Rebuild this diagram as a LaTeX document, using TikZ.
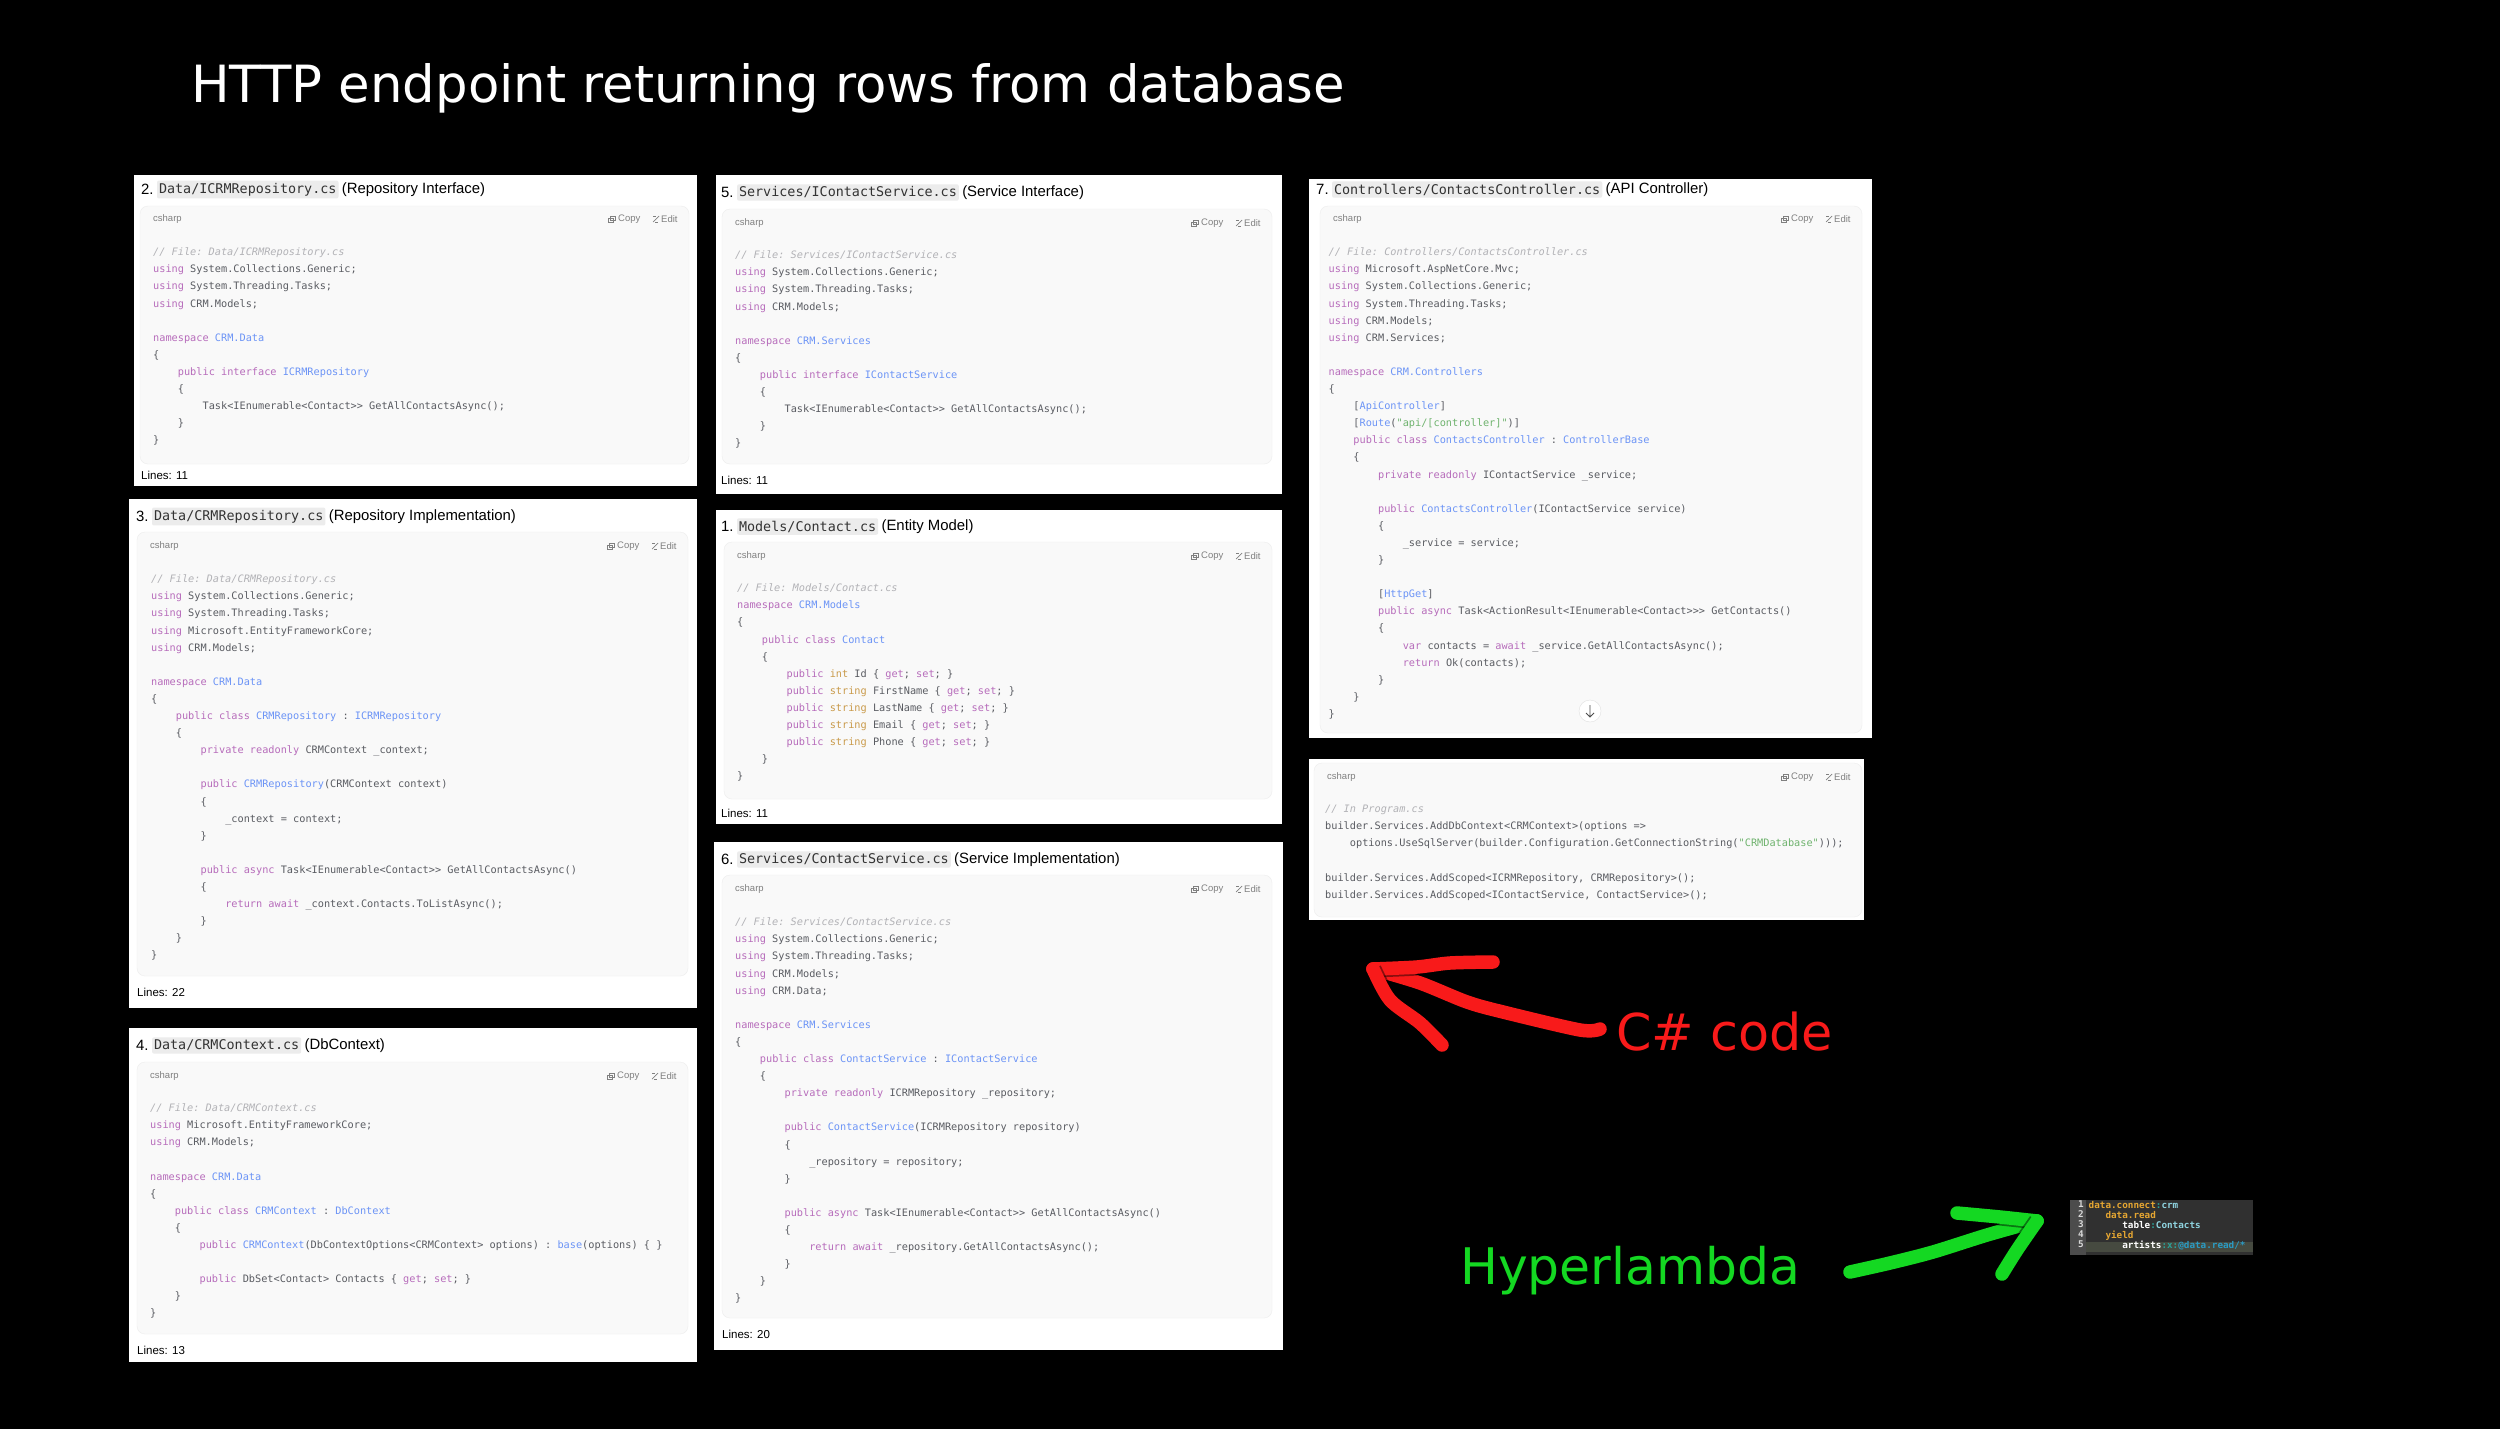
\documentclass[tikz,border=0pt]{standalone}
\usepackage{fontspec}
\setmainfont{Liberation Sans}
\setmonofont{DejaVu Sans Mono}
\newfontfamily\slidefont{DejaVu Sans}
\usetikzlibrary{positioning}
\definecolor{kwcol}{HTML}{B76CBB}
\definecolor{tycol}{HTML}{6C94F6}
\definecolor{stcol}{HTML}{6FB36E}
\definecolor{cmcol}{HTML}{B2B2B6}
\definecolor{ntcol}{HTML}{C99A4A}
\definecolor{plcol}{HTML}{5A5C62}
\definecolor{cardcol}{HTML}{F9F9F9}
\definecolor{pillcol}{HTML}{ECECEC}
\definecolor{redcol}{HTML}{F81A1A}
\definecolor{greencol}{HTML}{14D822}
\definecolor{hlor}{HTML}{E5A632}
\definecolor{hlte}{HTML}{2AA198}
\definecolor{hlbl}{HTML}{8FD4E0}
\definecolor{hlat}{HTML}{2A9BC4}
\definecolor{hlline}{HTML}{464A40}
\newcommand{\kw}[1]{\textcolor{kwcol}{#1}}
\newcommand{\ty}[1]{\textcolor{tycol}{#1}}
\newcommand{\st}[1]{\textcolor{stcol}{#1}}
\newcommand{\nt}[1]{\textcolor{ntcol}{#1}}
\newcommand{\cm}[1]{\textcolor{cmcol}{\itshape #1}}
\newcommand{\iA}{\hspace*{24.7pt}}
\newcommand{\iB}{\hspace*{49.4pt}}
\newcommand{\iC}{\hspace*{74.1pt}}
\newcommand{\paneltitle}[6]{
	\node[titletext, anchor=west] (#1num) at (#2,#3) {#4};
	\node[pill, right=3pt of #1num] (#1file) {#5};
	\node[titletext, right=3pt of #1file] (#1desc) {#6};
}
\tikzset{
	titletext/.style={inner sep=0pt, font=\fontsize{14.9}{17}\selectfont, text=black},
	pill/.style={fill=pillcol, rounded corners=2pt, inner xsep=2pt, inner ysep=2.5pt, text=black!80, font=\ttfamily\fontsize{13.4}{16}\selectfont},
	codetext/.style={anchor=north west, inner sep=0pt, align=left, text=plcol, font=\ttfamily\fontsize{10.25}{17.1}\selectfont},
	uitext/.style={inner sep=0pt, text=black!50, font=\fontsize{9.5}{11}\selectfont},
	linecount/.style={anchor=west, inner sep=0pt, text=black, font=\fontsize{11.5}{13}\selectfont},
	slidetext/.style={anchor=base west, inner sep=0pt, font=\slidefont\fontsize{#1}{#1}\selectfont},
	hltext/.style={anchor=north west, inner sep=0pt, align=left, font=\ttfamily\bfseries\fontsize{9.3}{10}\selectfont},
	stroke/.style={line width=13.5pt, line cap=round, line join=round, preaction={draw, line width=17pt, opacity=0.45}}
}

\begin{document}
\begin{tikzpicture}[x=1pt, y=-1pt]
	\fill[black] (0,0) rectangle (2500,1429);
	\useasboundingbox (0,0) rectangle (2500,1429);

	% panels and cards
	\foreach \name/\xa/\ya/\xb/\yb/\cxa/\cya/\cxb/\cyb/\sy in {
		ptwo/134/175/697/486/140/206/689/464/219,
		pthree/129/499/697/1008/137/532/688/976/546,
		pfour/129/1028/697/1362/137/1062/688/1334/1076,
		pfive/716/175/1282/494/722/209/1272/464/223,
		pone/716/510/1282/824/724/542/1272/799/556,
		psix/714/842/1283/1350/722/875/1272/1318/889,
		pseven/1309/179/1872/738/1320/206/1862/733/219,
		peight/1309/759/1864/920/1314/763/1862/917/777} {
		\fill[white] (\xa,\ya) rectangle (\xb,\yb);
		\draw[black!7, fill=cardcol, rounded corners=8pt] (\cxa,\cya) rectangle (\cxb,\cyb);
		\node[uitext, anchor=west] (\name lang) at (\cxa+13,\sy) {csharp};
		\node[uitext, anchor=west] (\name edit) at (\cxb-28,\sy) {Edit};
		\node[uitext, anchor=west] (\name copy) at (\cxb-71,\sy) {Copy};
		\draw[black!50, line width=0.5pt] (\cxb-81,\sy-1) rectangle (\cxb-76,\sy+3);
		\draw[black!50, line width=0.5pt] (\cxb-79,\sy-3) rectangle (\cxb-74,\sy+1);
		\draw[black!50, line width=0.7pt] (\cxb-36,\sy+3) -- (\cxb-30,\sy-3);
		\draw[black!50, line width=0.5pt] (\cxb-36,\sy-3) -- (\cxb-33,\sy-3) (\cxb-34,\sy+3) -- (\cxb-31,\sy+3);
	}

	% titles
	\paneltitle{ttwo}{141}{189.5}{2.}{Data/ICRMRepository.cs}{(Repository Interface)}
	\paneltitle{tthree}{136}{516.5}{3.}{Data/CRMRepository.cs}{(Repository Implementation)}
	\paneltitle{tfour}{136}{1045.5}{4.}{Data/CRMContext.cs}{(DbContext)}
	\paneltitle{tfive}{721}{192.5}{5.}{Services/IContactService.cs}{(Service Interface)}
	\paneltitle{tone}{721}{526.5}{1.}{Models/Contact.cs}{(Entity Model)}
	\paneltitle{tsix}{721}{859.5}{6.}{Services/ContactService.cs}{(Service Implementation)}
	\paneltitle{tseven}{1316}{189.5}{7.}{Controllers/ContactsController.cs}{(API Controller)}

	\node[linecount] (ltwo) at (141,475) {Lines: 11};
	\node[linecount] (lthree) at (137,992) {Lines: 22};
	\node[linecount] (lfour) at (137,1350) {Lines: 13};
	\node[linecount] (lfive) at (721,480) {Lines: 11};
	\node[linecount] (lone) at (721,813) {Lines: 11};
	\node[linecount] (lsix) at (722,1334) {Lines: 20};

	% code
	\node[codetext] (ctwo) at (153,243.6) {\strut\cm{// File: Data/ICRMRepository.cs}\\
		\kw{using} System.Collections.Generic;\\
		\kw{using} System.Threading.Tasks;\\
		\kw{using} CRM.Models;\\
		\strut\\
		\kw{namespace} \ty{CRM.Data}\\
		\{\\
		\iA\kw{public} \kw{interface} \ty{ICRMRepository}\\
		\iA\{\\
		\iB Task<IEnumerable<Contact>{}> GetAllContactsAsync();\\
		\iA\}\\
		\}};
	\node[codetext] (cthree) at (151,570.6) {\strut\cm{// File: Data/CRMRepository.cs}\\
		\kw{using} System.Collections.Generic;\\
		\kw{using} System.Threading.Tasks;\\
		\kw{using} Microsoft.EntityFrameworkCore;\\
		\kw{using} CRM.Models;\\
		\strut\\
		\kw{namespace} \ty{CRM.Data}\\
		\{\\
		\iA\kw{public} \kw{class} \ty{CRMRepository} : \ty{ICRMRepository}\\
		\iA\{\\
		\iB\kw{private} \kw{readonly} CRMContext \_context;\\
		\strut\\
		\iB\kw{public} \ty{CRMRepository}(CRMContext context)\\
		\iB\{\\
		\iC\_context = context;\\
		\iB\}\\
		\strut\\
		\iB\kw{public} \kw{async} Task<IEnumerable<Contact>{}> GetAllContactsAsync()\\
		\iB\{\\
		\iC\kw{return} \kw{await} \_context.Contacts.ToListAsync();\\
		\iB\}\\
		\iA\}\\
		\}};
	\node[codetext] (cfour) at (150,1099.6) {\strut\cm{// File: Data/CRMContext.cs}\\
		\kw{using} Microsoft.EntityFrameworkCore;\\
		\kw{using} CRM.Models;\\
		\strut\\
		\kw{namespace} \ty{CRM.Data}\\
		\{\\
		\iA\kw{public} \kw{class} \ty{CRMContext} : \ty{DbContext}\\
		\iA\{\\
		\iB\kw{public} \ty{CRMContext}(DbContextOptions<CRMContext> options) : \ty{base}(options) \{ \}\\
		\strut\\
		\iB\kw{public} DbSet<Contact> Contacts \{ \kw{get}; \kw{set}; \}\\
		\iA\}\\
		\}};
	\node[codetext] (cfive) at (735,246.6) {\strut\cm{// File: Services/IContactService.cs}\\
		\kw{using} System.Collections.Generic;\\
		\kw{using} System.Threading.Tasks;\\
		\kw{using} CRM.Models;\\
		\strut\\
		\kw{namespace} \ty{CRM.Services}\\
		\{\\
		\iA\kw{public} \kw{interface} \ty{IContactService}\\
		\iA\{\\
		\iB Task<IEnumerable<Contact>{}> GetAllContactsAsync();\\
		\iA\}\\
		\}};
	\node[codetext] (cone) at (737,579.6) {\strut\cm{// File: Models/Contact.cs}\\
		\kw{namespace} \ty{CRM.Models}\\
		\{\\
		\iA\kw{public} \kw{class} \ty{Contact}\\
		\iA\{\\
		\iB\kw{public} \nt{int} Id \{ \kw{get}; \kw{set}; \}\\
		\iB\kw{public} \nt{string} FirstName \{ \kw{get}; \kw{set}; \}\\
		\iB\kw{public} \nt{string} LastName \{ \kw{get}; \kw{set}; \}\\
		\iB\kw{public} \nt{string} Email \{ \kw{get}; \kw{set}; \}\\
		\iB\kw{public} \nt{string} Phone \{ \kw{get}; \kw{set}; \}\\
		\iA\}\\
		\}};
	\node[codetext] (csix) at (735,913.6) {\strut\cm{// File: Services/ContactService.cs}\\
		\kw{using} System.Collections.Generic;\\
		\kw{using} System.Threading.Tasks;\\
		\kw{using} CRM.Models;\\
		\kw{using} CRM.Data;\\
		\strut\\
		\kw{namespace} \ty{CRM.Services}\\
		\{\\
		\iA\kw{public} \kw{class} \ty{ContactService} : \ty{IContactService}\\
		\iA\{\\
		\iB\kw{private} \kw{readonly} ICRMRepository \_repository;\\
		\strut\\
		\iB\kw{public} \ty{ContactService}(ICRMRepository repository)\\
		\iB\{\\
		\iC\_repository = repository;\\
		\iB\}\\
		\strut\\
		\iB\kw{public} \kw{async} Task<IEnumerable<Contact>{}> GetAllContactsAsync()\\
		\iB\{\\
		\iC\kw{return} \kw{await} \_repository.GetAllContactsAsync();\\
		\iB\}\\
		\iA\}\\
		\}};
	\node[codetext] (cseven) at (1328.5,243.6) {\strut\cm{// File: Controllers/ContactsController.cs}\\
		\kw{using} Microsoft.AspNetCore.Mvc;\\
		\kw{using} System.Collections.Generic;\\
		\kw{using} System.Threading.Tasks;\\
		\kw{using} CRM.Models;\\
		\kw{using} CRM.Services;\\
		\strut\\
		\kw{namespace} \ty{CRM.Controllers}\\
		\{\\
		\iA[\ty{ApiController}]\\
		\iA[\ty{Route}(\st{"api/[controller]"})]\\
		\iA\kw{public} \kw{class} \ty{ContactsController} : \ty{ControllerBase}\\
		\iA\{\\
		\iB\kw{private} \kw{readonly} IContactService \_service;\\
		\strut\\
		\iB\kw{public} \ty{ContactsController}(IContactService service)\\
		\iB\{\\
		\iC\_service = service;\\
		\iB\}\\
		\strut\\
		\iB[\ty{HttpGet}]\\
		\iB\kw{public} \kw{async} Task<ActionResult<IEnumerable<Contact>{}>{}> GetContacts()\\
		\iB\{\\
		\iC\kw{var} contacts = \kw{await} \_service.GetAllContactsAsync();\\
		\iC\kw{return} Ok(contacts);\\
		\iB\}\\
		\iA\}\\
		\}};
	\node[codetext] (ceight) at (1325,800.6) {\strut\cm{// In Program.cs}\\
		builder.Services.AddDbContext<CRMContext>(options =>\\
		\iA options.UseSqlServer(builder.Configuration.GetConnectionString(\st{"CRMDatabase"})));\\
		\strut\\
		builder.Services.AddScoped<ICRMRepository, CRMRepository>();\\
		builder.Services.AddScoped<IContactService, ContactService>();};

	% scroll button
	\node[circle, fill=white, draw=black!12, minimum size=22pt, inner sep=0pt] (scrollbtn) at (1590,711) {};
	\draw[black!70, line width=0.9pt] (1590,705) -- (1590,717) (1586,713) -- (1590,717) -- (1594,713);

	% slide texts
	\node[slidetext=51.3, text=white] (slidetitle) at (191,102) {HTTP endpoint returning rows from database};
	\node[slidetext=50.8, text=redcol] (csharplabel) at (1616,1050) {C\# code};
	\node[slidetext=50.4, text=greencol] (hllabel) at (1460,1284) {Hyperlambda};

	% pen strokes
	\draw[stroke, redcol] plot[smooth, tension=0.5] coordinates {(1600,1029) (1580,1030) (1503,1012) (1467,1002) (1420,983) (1373,969)};
	\draw[stroke, redcol] plot[smooth, tension=0.5] coordinates {(1493,962) (1450,963) (1417,967) (1373,969)};
	\draw[stroke, redcol] plot[smooth, tension=0.5] coordinates {(1373,969) (1390,1000) (1420,1023) (1442,1045)};
	\draw[stroke, greencol] plot[smooth, tension=0.5] coordinates {(1850,1272) (1890,1263) (1933,1252) (1987,1235) (2037,1221)};
	\draw[stroke, greencol] plot[smooth, tension=0.5] coordinates {(1957,1213) (2000,1217) (2037,1221)};
	\draw[stroke, greencol] plot[smooth, tension=0.5] coordinates {(2037,1221) (2017,1250) (2002,1274)};

	% hyperlambda editor
	\fill[black!81] (2070,1200) rectangle (2253,1255);
	\fill[black!70] (2070,1200) rectangle (2086,1255);
	\fill[hlline] (2086,1242) rectangle (2253,1252);
	\node[hltext, anchor=north east, align=right, text=black!15] (hlnums) at (2084,1201) {1\\2\\3\\4\\5};
	\node[hltext, text=white] (hlcode) at (2088.5,1201) {\textcolor{hlor}{data.connect}\textcolor{hlte}{:}\textcolor{hlbl}{crm}\\
		\textcolor{hlor}{\hspace*{16.8pt}data.read}\\
		\hspace*{33.6pt}table\textcolor{hlte}{:}\textcolor{hlbl}{Contacts}\\
		\textcolor{hlor}{\hspace*{16.8pt}yield}\\
		\hspace*{33.6pt}artists\textcolor{hlte}{:x:}\textcolor{hlat}{@data.read/*}};
\end{tikzpicture}
\end{document}
